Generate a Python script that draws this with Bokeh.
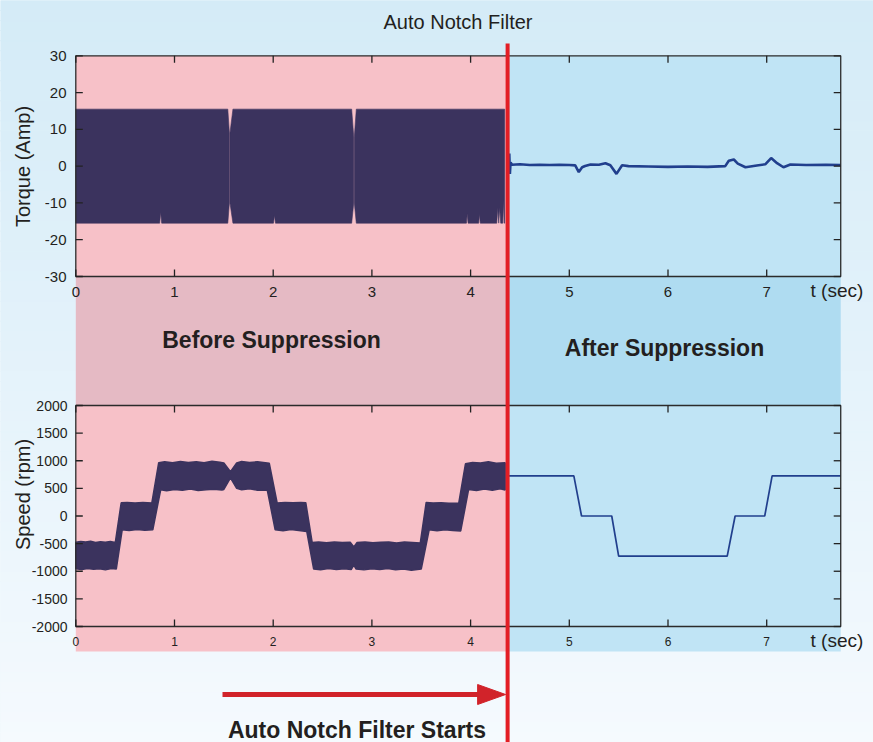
import numpy as np
from bokeh.plotting import figure
from bokeh.models import Range1d
from bokeh.core.properties import value
from bokeh.embed import file_html
from bokeh.resources import INLINE

# ------------------------------------------------------------------ data
t_ticks = [0, 1, 2, 3, 4, 5, 6, 7]
t_tick_labels = ["0", "1", "2", "3", "4", "5", "6", "7"]
torque_ticks = [-30, -20, -10, 0, 10, 20, 30]
torque_tick_labels = ["-30", "-20", "-10", "0", "10", "20", "30"]
speed_ticks = [-2000, -1500, -1000, -500, 0, 500, 1000, 1500, 2000]
speed_tick_labels = ["-2000", "-1500", "-1000", "-500", "0", "500", "1000", "1500", "2000"]

t_max = 7.75
filter_start = 4.375

# torque before the notch filter: envelope of the dense oscillation, in segments
torque_seg_t = [
    [0.00, 0.85, 0.86, 0.87, 1.540, 1.556],
    [1.562, 1.592, 2.003, 2.013, 2.023, 2.795, 2.816],
    [2.822, 2.842, 3.958, 3.966, 3.974, 4.082, 4.090, 4.098, 4.265, 4.275,
     4.285, 4.295, 4.305, 4.326, 4.333, 4.340, 4.345],
]
torque_seg_upper = [
    [15.5, 15.5, 15.5, 15.5, 15.5, 9],
    [9, 15.5, 15.5, 15.5, 15.5, 15.5, 8],
    [8, 15.5, 15.5, 15.5, 15.5, 15.5, 15.5, 15.5, 15.5, 15.5,
     15.5, 15.5, 15.5, 15.5, 15.5, 15.5, 15.5],
]
torque_seg_lower = [
    [-15.5, -15.5, -12.5, -15.5, -15.5, -10],
    [-10, -15.5, -15.5, -13.4, -15.5, -15.5, -10],
    [-10, -15.5, -15.5, -12.9, -15.5, -15.5, -13.1, -15.5, -15.5, -11.3,
     -15.5, -11.3, -15.5, -15.5, -9.3, -15.5, -15.5],
]

# torque after the notch filter
torque_after_t = [4.375, 4.392, 4.398, 4.405, 4.42, 4.5, 4.6, 4.7, 4.8, 4.9, 5.0, 5.06,
                  5.096, 5.13, 5.16, 5.215, 5.30, 5.366, 5.416, 5.478, 5.535, 5.6,
                  5.8, 6.0, 6.2, 6.4, 6.58, 6.616, 6.667, 6.707, 6.785, 6.90, 6.985,
                  7.045, 7.105, 7.17, 7.24, 7.4, 7.6, 7.75]
torque_after = [0.3, 3.4, -2.1, 1.0, 0.4, 0.5, 0.3, 0.4, 0.3, 0.4, 0.3, 0.2,
                -1.6, -0.3, 0.05, 0.45, 0.4, 0.8, 0.25, -2.1, 0.25, 0.0,
                -0.1, -0.2, -0.1, -0.2, 0.0, 1.45, 1.8, 0.7, -0.3, 0.2, 0.5,
                2.2, 0.8, -0.3, 0.45, 0.3, 0.4, 0.3]

# speed before the notch filter: upper / lower envelope of the noisy band
speed_upper_t = [0.00, 0.05, 0.10, 0.15, 0.20, 0.25, 0.30, 0.35, 0.40,
                 0.46, 0.52, 0.60, 0.68, 0.77,
                 0.84, 0.90, 0.98, 1.06, 1.14, 1.22, 1.30, 1.38, 1.46, 1.50,
                 1.567,
                 1.63, 1.68, 1.76, 1.84, 1.92, 1.96,
                 2.04, 2.12, 2.20, 2.28, 2.33,
                 2.395, 2.46, 2.54, 2.62, 2.70, 2.78,
                 2.817,
                 2.85, 2.93, 3.01, 3.09, 3.17, 3.25, 3.33, 3.41, 3.49,
                 3.55, 3.62, 3.70, 3.78, 3.88,
                 3.948, 4.02, 4.10, 4.18, 4.26, 4.35]
speed_upper = [-475, -460, -470, -455, -480, -465, -475, -460, -480,
               240, 245, 235, 245, 235,
               965, 980, 965, 985, 970, 980, 965, 990, 975, 960,
               800,
               960, 985, 970, 980, 965, 955,
               235, 245, 240, 245, 240,
               -480, -470, -485, -470, -480, -475,
               -560,
               -480, -470, -485, -475, -470, -490, -470, -480, -490,
               245, 235, 240, 230, 235,
               945, 970, 960, 980, 955, 965]
speed_lower_t = [0.00, 0.06, 0.12, 0.18, 0.24, 0.30, 0.36, 0.41,
                 0.47, 0.54, 0.62, 0.70, 0.78,
                 0.86, 0.92, 1.00, 1.08, 1.16, 1.24, 1.32, 1.40, 1.48, 1.50,
                 1.567,
                 1.63, 1.68, 1.76, 1.84, 1.94,
                 2.02, 2.10, 2.18, 2.26, 2.34,
                 2.41, 2.48, 2.56, 2.64, 2.72, 2.79,
                 2.817,
                 2.84, 2.92, 3.00, 3.08, 3.16, 3.24, 3.32, 3.40, 3.50,
                 3.58, 3.66, 3.74, 3.82, 3.90,
                 3.98, 4.06, 4.14, 4.22, 4.30, 4.35]
speed_lower = [-955, -970, -950, -965, -955, -975, -950, -960,
               -250, -262, -245, -258, -250,
               475, 455, 480, 465, 490, 460, 475, 485, 470, 480,
               690,
               500, 475, 495, 465, 470,
               -250, -265, -245, -262, -280,
               -960, -972, -950, -968, -955, -970,
               -890,
               -960, -975, -955, -968, -950, -972, -958, -980, -960,
               -250, -265, -248, -262, -270,
               480, 462, 488, 468, 495, 472]

# speed after the notch filter
speed_after_t = [4.375, 5.046, 5.124, 5.43, 5.50, 6.60, 6.68, 6.98, 7.055, 7.75]
speed_after = [725, 725, 0, 0, -725, -725, 0, 0, 725, 725]

# ------------------------------------------------------------------ layout (page pixels)
W, H = 873, 742
X_T0, PX_PER_T = 75.3, 98.7          # t = 0 position, px per second
TQ_TOP, TQ_BOT = 55.3, 276.0         # torque +30 / -30
SP_TOP, SP_BOT = 405.0, 626.0        # speed +2000 / -2000
LOWER_BAND_BOT = 651.0


def t_of(px):
    return (px - X_T0) / PX_PER_T


def tq_of(py):
    return 30 - (py - TQ_TOP) * 60.0 / (TQ_BOT - TQ_TOP)


def sp_of(py):
    return 2000 - (py - SP_TOP) * 4000.0 / (SP_BOT - SP_TOP)


SIG = "#3b335e"
AFTER = "#213f8d"
RED = "#e31e25"
ARROW = "#d1232a"
PINK = "#f7c1c8"
PINK_D = "#e5bac4"
BLUE = "#c0e4f5"
BLUE_D = "#afdcf1"
INK = "#231f20"
FONT = value("Liberation Sans")

p = figure(width=W, height=H, output_backend="svg", toolbar_location=None,
           x_range=Range1d(0, W), y_range=Range1d(H, 0),
           x_axis_type=None, y_axis_type=None, min_border=0,
           outline_line_color=None)
p.extra_x_ranges = {"t": Range1d(t_of(0), t_of(W))}
p.extra_y_ranges = {"tq": Range1d(tq_of(H), tq_of(0)),
                    "sp": Range1d(sp_of(H), sp_of(0))}
p.xgrid.visible = False
p.ygrid.visible = False
p.background_fill_color = "#e4f2fa"
p.border_fill_color = "#e4f2fa"

# background gradient
n_bands = 74
edges = np.linspace(0, H, n_bands + 1)
c_top = np.array([212, 235, 247])
c_bot = np.array([245, 250, 254])
cols = []
for i in range(n_bands):
    f = (i + 0.5) / n_bands
    c = (c_top * (1 - f) + c_bot * f).round().astype(int)
    cols.append("#%02x%02x%02x" % tuple(c))
p.quad(left=-5, right=W + 5, top=edges[:-1], bottom=edges[1:], fill_color=cols,
       line_color=cols, line_width=1)

# pink / blue zones
p.quad(left=[0, filter_start], right=[filter_start, t_max], top=TQ_TOP, bottom=TQ_BOT,
       fill_color=[PINK, BLUE], line_color=None, x_range_name="t")
p.quad(left=[0, filter_start], right=[filter_start, t_max], top=TQ_BOT, bottom=SP_TOP,
       fill_color=[PINK_D, BLUE_D], line_color=None, x_range_name="t")
p.quad(left=[0, filter_start], right=[filter_start, t_max], top=SP_TOP, bottom=LOWER_BAND_BOT,
       fill_color=[PINK, BLUE], line_color=None, x_range_name="t")

# torque signals
xs = [ts + ts[::-1] for ts in torque_seg_t]
ys = [u + l[::-1] for u, l in zip(torque_seg_upper, torque_seg_lower)]
p.patches(xs=xs, ys=ys, fill_color=SIG, line_color=SIG, line_width=0.6,
          x_range_name="t", y_range_name="tq")
p.line(torque_after_t, torque_after, line_color=AFTER, line_width=2.6,
       x_range_name="t", y_range_name="tq")

# speed signals
p.patch(x=speed_upper_t + speed_lower_t[::-1], y=speed_upper + speed_lower[::-1],
        fill_color=SIG, line_color=SIG, line_width=1.5, x_range_name="t", y_range_name="sp")
p.line(speed_after_t, speed_after, line_color=AFTER, line_width=1.7,
       x_range_name="t", y_range_name="sp")

# frames
p.quad(left=0, right=t_max, top=30, bottom=-30, fill_color=None, line_color="#2b2b2b",
       line_width=1.3, x_range_name="t", y_range_name="tq")
p.quad(left=0, right=t_max, top=2000, bottom=-2000, fill_color=None, line_color="#2b2b2b",
       line_width=1.3, x_range_name="t", y_range_name="sp")

TL = 7
n = len(t_ticks)
for top_px, bot_px in [(TQ_TOP, TQ_BOT), (SP_TOP, SP_BOT)]:
    p.segment(x0=t_ticks, x1=t_ticks, y0=[top_px] * n, y1=[top_px + TL] * n,
              line_color="#222222", line_width=1.3, x_range_name="t")
    p.segment(x0=t_ticks, x1=t_ticks, y0=[bot_px] * n, y1=[bot_px - TL] * n,
              line_color="#222222", line_width=1.3, x_range_name="t")
x_right = X_T0 + t_max * PX_PER_T
for ticks, rng in [(torque_ticks, "tq"), (speed_ticks, "sp")]:
    m = len(ticks)
    p.segment(x0=[X_T0] * m, x1=[X_T0 + TL] * m, y0=ticks, y1=ticks,
              line_color="#222222", line_width=1.3, y_range_name=rng)
    p.segment(x0=[x_right] * m, x1=[x_right - TL] * m, y0=ticks, y1=ticks,
              line_color="#222222", line_width=1.3, y_range_name=rng)

# tick labels (y = visual centre of the text)
p.text(x=t_ticks, y=[291] * n, text=t_tick_labels, text_font=FONT, text_font_size="15px",
       text_color=INK, text_align="center", text_baseline="middle", x_range_name="t")
p.text(x=t_ticks, y=[641] * n, text=t_tick_labels, text_font=FONT, text_font_size="12px",
       text_color=INK, text_align="center", text_baseline="middle", x_range_name="t")
p.text(x=[66] * len(torque_ticks), y=torque_ticks, text=torque_tick_labels, text_font=FONT,
       text_font_size="15px", text_color=INK, text_align="right", text_baseline="middle",
       y_range_name="tq")
p.text(x=[67] * len(speed_ticks), y=speed_ticks, text=speed_tick_labels, text_font=FONT,
       text_font_size="14px", text_color=INK, text_align="right", text_baseline="middle",
       y_range_name="sp")
p.text(x=[810, 810], y=[290, 640], text=["t (sec)", "t (sec)"], text_font=FONT,
       text_font_size="19px", text_color=INK, text_align="left", text_baseline="middle")

# axis titles
p.text(x=[22.5, 22.5], y=[166, 494], text=["Torque (Amp)", "Speed (rpm)"], angle=np.pi / 2,
       text_font=FONT, text_font_size="20px", text_color=INK, text_align="center",
       text_baseline="middle")

# red filter-start line
p.segment(x0=[filter_start], x1=[filter_start], y0=[43], y1=[H + 5], line_color=RED,
          line_width=4, x_range_name="t")

# title and annotations
p.text(x=[457.5], y=[21], text=["Auto Notch Filter"], text_font=FONT, text_font_size="20px",
       text_color=INK, text_align="center", text_baseline="middle")
p.text(x=[271, 664], y=[339.5, 347], text=["Before Suppression", "After Suppression"],
       text_font=FONT, text_font_size="23px", text_font_style="bold", text_color=INK,
       text_align="center", text_baseline="middle")
p.text(x=[356.5], y=[729.5], text=["Auto Notch Filter Starts"], text_font=FONT,
       text_font_size="23px", text_font_style="bold", text_color=INK,
       text_align="center", text_baseline="middle")

# arrow pointing to the filter start
ax_end = X_T0 + filter_start * PX_PER_T - 2
ay = 694
p.segment(x0=[222], x1=[ax_end - 24], y0=[ay], y1=[ay], line_color=ARROW, line_width=5)
p.patch(x=[ax_end - 28, ax_end, ax_end - 28], y=[ay - 10, ay, ay + 10], fill_color=ARROW,
        line_color=ARROW, line_width=1)

open("out.html", "w").write(file_html(p, INLINE))
